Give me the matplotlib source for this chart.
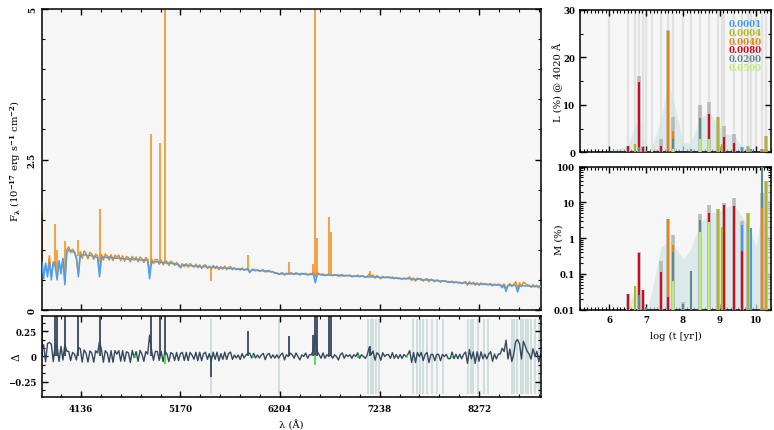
import numpy as np
import matplotlib
matplotlib.use("Agg")
import matplotlib.pyplot as plt
from matplotlib.ticker import MultipleLocator, FixedLocator, FuncFormatter, LogLocator, NullFormatter

# ---- spectrum (rest-frame wavelength grid, 20 A step) ----
wave = np.arange(3730, 8911, 20)

model_flux = [
    0.80, 0.52, 0.78, 0.55, 0.79, 0.50, 0.80, 0.72, 0.50, 0.82,
    0.60, 0.86, 0.42, 0.95, 1.00, 0.99, 0.97, 0.95, 0.88, 0.55,
    0.90, 0.91, 0.92, 0.91, 0.90, 0.91, 0.90, 0.89, 0.88, 0.87,
    0.55, 0.86, 0.88, 0.88, 0.87, 0.88, 0.87, 0.87, 0.86, 0.86,
    0.86, 0.86, 0.85, 0.85, 0.85, 0.84, 0.85, 0.84, 0.84, 0.84,
    0.84, 0.83, 0.83, 0.83, 0.83, 0.82, 0.52, 0.80, 0.80, 0.80,
    0.80, 0.79, 0.79, 0.79, 0.78, 0.78, 0.78, 0.78, 0.77, 0.77,
    0.76, 0.76, 0.70, 0.74, 0.75, 0.74, 0.74, 0.74, 0.73, 0.73,
    0.73, 0.73, 0.72, 0.72, 0.72, 0.72, 0.71, 0.71, 0.71, 0.71,
    0.71, 0.70, 0.70, 0.70, 0.70, 0.70, 0.69, 0.69, 0.69, 0.69,
    0.69, 0.68, 0.68, 0.68, 0.68, 0.67, 0.67, 0.67, 0.62, 0.67,
    0.66, 0.66, 0.66, 0.65, 0.65, 0.65, 0.65, 0.64, 0.64, 0.64,
    0.63, 0.62, 0.61, 0.60, 0.60, 0.60, 0.60, 0.60, 0.60, 0.60,
    0.60, 0.60, 0.60, 0.60, 0.60, 0.60, 0.60, 0.59, 0.59, 0.59,
    0.59, 0.59, 0.45, 0.59, 0.59, 0.59, 0.58, 0.58, 0.58, 0.58,
    0.58, 0.58, 0.58, 0.58, 0.58, 0.57, 0.57, 0.57, 0.57, 0.57,
    0.57, 0.56, 0.56, 0.56, 0.56, 0.56, 0.56, 0.56, 0.55, 0.55,
    0.55, 0.55, 0.55, 0.55, 0.55, 0.54, 0.54, 0.54, 0.54, 0.54,
    0.54, 0.54, 0.53, 0.53, 0.53, 0.53, 0.52, 0.52, 0.52, 0.52,
    0.52, 0.52, 0.52, 0.51, 0.51, 0.51, 0.51, 0.50, 0.50, 0.50,
    0.50, 0.50, 0.50, 0.49, 0.49, 0.49, 0.48, 0.48, 0.48, 0.48,
    0.47, 0.47, 0.47, 0.46, 0.46, 0.46, 0.46, 0.45, 0.45, 0.45,
    0.45, 0.44, 0.44, 0.44, 0.44, 0.44, 0.43, 0.43, 0.43, 0.43,
    0.43, 0.43, 0.42, 0.42, 0.42, 0.42, 0.42, 0.42, 0.41, 0.37,
    0.41, 0.31, 0.41, 0.41, 0.41, 0.41, 0.41, 0.30, 0.40, 0.40,
    0.40, 0.40, 0.40, 0.40, 0.39, 0.39, 0.39, 0.39, 0.39, 0.39,
]

obs_flux = [
    0.86, 0.58, 0.74, 0.62, 0.90, 0.56, 0.76, 0.80, 0.55, 0.78,
    0.66, 0.83, 0.47, 1.00, 1.05, 0.95, 1.01, 0.97, 0.85, 0.60,
    0.97, 0.86, 0.98, 0.94, 0.85, 0.96, 0.93, 0.84, 0.93, 0.90,
    0.63, 0.92, 0.83, 0.93, 0.90, 0.83, 0.92, 0.82, 0.91, 0.88,
    0.91, 0.82, 0.90, 0.81, 0.89, 0.87, 0.80, 0.89, 0.83, 0.88,
    0.80, 0.88, 0.85, 0.79, 0.87, 0.84, 0.63, 0.85, 0.77, 0.84,
    0.84, 0.76, 0.83, 0.75, 0.82, 0.80, 0.74, 0.81, 0.79, 0.74,
    0.79, 0.73, 0.72, 0.77, 0.72, 0.77, 0.71, 0.77, 0.74, 0.71,
    0.76, 0.70, 0.75, 0.69, 0.74, 0.75, 0.69, 0.73, 0.68, 0.74,
    0.69, 0.73, 0.67, 0.72, 0.68, 0.73, 0.67, 0.71, 0.72, 0.67,
    0.70, 0.67, 0.69, 0.66, 0.70, 0.66, 0.68, 0.69, 0.64, 0.66,
    0.68, 0.65, 0.67, 0.64, 0.66, 0.67, 0.63, 0.65, 0.66, 0.63,
    0.64, 0.61, 0.62, 0.59, 0.61, 0.62, 0.58, 0.61, 0.60, 0.62,
    0.61, 0.59, 0.62, 0.60, 0.58, 0.61, 0.60, 0.61, 0.58, 0.60,
    0.60, 0.63, 0.55, 0.62, 0.60, 0.58, 0.60, 0.57, 0.59, 0.58,
    0.59, 0.57, 0.59, 0.58, 0.56, 0.58, 0.59, 0.56, 0.58, 0.57,
    0.58, 0.55, 0.57, 0.56, 0.58, 0.55, 0.57, 0.56, 0.54, 0.56,
    0.60, 0.56, 0.58, 0.53, 0.57, 0.55, 0.52, 0.56, 0.54, 0.55,
    0.55, 0.53, 0.55, 0.52, 0.54, 0.52, 0.53, 0.51, 0.53, 0.52,
    0.53, 0.55, 0.49, 0.53, 0.48, 0.53, 0.51, 0.52, 0.48, 0.51,
    0.52, 0.47, 0.51, 0.50, 0.47, 0.50, 0.49, 0.46, 0.49, 0.48,
    0.48, 0.46, 0.46, 0.48, 0.45, 0.47, 0.45, 0.46, 0.44, 0.46,
    0.47, 0.41, 0.47, 0.43, 0.46, 0.41, 0.45, 0.41, 0.45, 0.42,
    0.44, 0.42, 0.43, 0.44, 0.40, 0.43, 0.41, 0.43, 0.42, 0.40,
    0.43, 0.36, 0.40, 0.44, 0.39, 0.42, 0.47, 0.35, 0.45, 0.39,
    0.46, 0.44, 0.42, 0.41, 0.38, 0.42, 0.39, 0.41, 0.37, 0.40,
]

# emission lines / spikes in the observed spectrum
line_wave = [3733, 3869, 3889, 3970, 4102, 4340, 4861, 4959, 5007, 5485,
             5876, 6300, 6548, 6563, 6583, 6716, 6731, 7136]
line_base = [0.80, 0.78, 0.70, 0.60, 0.90, 0.80, 0.75, 0.80, 0.80, 0.72,
             0.68, 0.61, 0.60, 0.58, 0.60, 0.59, 0.59, 0.56]
line_peak = [1.62, 1.43, 1.00, 1.15, 1.17, 1.67, 2.92, 2.78, 5.50, 0.49,
             0.92, 0.79, 0.76, 5.50, 1.19, 1.54, 1.29, 0.65]
line_resid = [0.45, 0.45, 0.45, 0.45, 0.45, 0.45, 0.45, 0.45, 0.45, -0.20,
              0.25, 0.20, 0.21, 0.45, 0.45, 0.45, 0.45, 0.10]

# masked pixels (residual panel)
mask_wave = [5485, 6197, 7120, 7145, 7172, 7200, 7234,
             7587, 7622, 7657, 7691, 7726, 7778, 7836, 7892,
             8158, 8183, 8210, 8262, 8321, 8365,
             8614, 8635, 8666, 8701, 8728, 8756, 8780, 8805, 8850, 8895]
# clipped points
clip_wave = [4700, 5007, 5925, 6563, 7013, 7519, 7986]
clip_low = [-0.01, -0.07, -0.01, -0.08, -0.01, -0.01, -0.01]

# ---- star formation history ----
z_labels = ["0.0001", "0.0004", "0.0040", "0.0080", "0.0200", "0.0500"]
z_colors = ["#3d9cf5", "#b4b414", "#f08208", "#d4081e", "#5e8c8c", "#b8ef72"]

age_grid = [6.00, 6.50, 6.70, 6.81, 6.92, 6.99, 7.15, 7.40, 7.60, 7.74, 8.01, 8.21,
            8.46, 8.70, 8.95, 9.07, 9.13, 9.38, 9.62, 9.78, 9.86, 10.00, 10.16, 10.26]

bar_logt = [6.50, 6.70, 6.81, 6.81, 6.92, 6.99, 7.15, 7.40, 7.60, 7.60, 7.74, 7.74, 7.74,
            8.01, 8.21, 8.46, 8.46, 8.70, 8.70, 8.95, 9.07, 9.13, 9.38, 9.62, 9.62,
            9.78, 9.86, 10.16, 10.16, 10.26]
bar_z = [3, 1, 3, 4, 3, 4, 5, 3, 2, 3, 5, 4, 2,
         4, 4, 5, 4, 5, 3, 1, 1, 3, 3, 3, 0,
         1, 0, 2, 4, 1]
bar_L = [1.3, 1.7, 14.8, 1.2, 1.2, 0.3, 0.2, 1.4, 25.6, 0.3, 0.7, 2.8, 4.4,
         0.1, 0.6, 2.8, 7.3, 2.8, 8.0, 7.4, 1.8, 3.2, 2.0, 0.2, 1.1,
         1.1, 0.6, 0.6, 0.2, 3.4]
bar_M = [0.028, 0.045, 0.38, 0.025, 0.036, 0.012, 0.008, 0.11, 3.4, 0.022, 0.065, 0.42, 0.63,
         0.014, 0.12, 1.5, 3.3, 2.9, 5.2, 6.6, 2.0, 8.5, 8.0, 0.44, 2.4,
         5.2, 1.9, 6.8, 150.0, 40.0]

tot_logt = [6.50, 6.81, 6.92, 7.40, 7.60, 7.74, 8.01, 8.46, 8.70, 8.95, 9.13, 9.38, 9.62, 9.78, 10.16, 10.26]
tot_L = [1.4, 16.0, 1.3, 2.7, 25.8, 7.4, 0.1, 10.0, 10.7, 7.4, 5.6, 3.9, 1.2, 1.3, 0.6, 3.4]
tot_M = [0.028, 0.42, 0.036, 0.23, 3.4, 1.2, 0.016, 4.8, 8.3, 6.6, 9.8, 13.5, 3.0, 5.2, 18.0, 40.0]

env_t = [5.95, 6.00, 6.50, 6.81, 7.00, 7.15, 7.40, 7.60, 7.74, 8.01, 8.21, 8.46, 8.70,
         8.95, 9.13, 9.38, 9.62, 9.78, 10.00, 10.16, 10.26, 10.40]
env_L = [0.0, 0.4, 1.3, 8.0, 0.2, 1.0, 7.0, 14.5, 11.0, 2.0, 2.0, 7.0, 8.6,
         6.0, 3.8, 3.8, 1.0, 0.8, 0.3, 0.6, 0.3, 0.0]
env_M = [0.0001, 0.0001, 0.012, 0.07, 0.008, 0.03, 0.55, 0.86, 0.70, 0.26, 0.50, 2.5, 5.3,
         5.3, 6.7, 9.2, 3.9, 2.2, 0.6, 8.0, 40.0, 40.0]

# ---- style ----
plt.rcParams["font.family"] = "DejaVu Serif"
plt.rcParams["font.weight"] = "bold"
plt.rcParams["mathtext.fontset"] = "dejavuserif"
plt.rcParams["mathtext.default"] = "bf"
plt.rcParams["axes.linewidth"] = 1.1
plt.rcParams["axes.facecolor"] = "#f6f6f6"

FS = 6.2     # tick labels
FL = 7.2     # axis labels
C_OBS = "#f28a12"
C_MOD = "#4a9ff2"
C_RES = "#34495e"


def style_ticks(ax):
    ax.tick_params(which="both", direction="in", top=True, right=True, labelsize=FS)
    ax.tick_params(which="major", length=4, width=1.0)
    ax.tick_params(which="minor", length=2, width=0.8)


fig = plt.figure(figsize=(7.74, 4.31), dpi=100)
ax_sp = fig.add_axes([0.0539, 0.2784, 0.6447, 0.6984])
ax_res = fig.add_axes([0.0539, 0.0766, 0.6447, 0.1879])
ax_L = fig.add_axes([0.7494, 0.6443, 0.2468, 0.3302])
ax_M = fig.add_axes([0.7494, 0.2791, 0.2468, 0.3318])

xlim = (3730, 8910)

# spectrum
ax_sp.plot(wave, obs_flux, color=C_OBS, lw=1.1, zorder=2)
ax_sp.vlines(line_wave, line_base, line_peak, color=C_OBS, lw=1.1, zorder=2)
ax_sp.plot(wave, model_flux, color=C_MOD, lw=1.1, zorder=3)
ax_sp.set_xlim(*xlim)
ax_sp.set_ylim(0, 5)
ax_sp.xaxis.set_major_locator(MultipleLocator(1034))
ax_sp.xaxis.set_minor_locator(MultipleLocator(206.8))
ax_sp.yaxis.set_major_locator(MultipleLocator(2.5))
ax_sp.yaxis.set_minor_locator(MultipleLocator(0.5))
ax_sp.yaxis.set_major_formatter(FuncFormatter(lambda v, p: f"{v:g}"))
style_ticks(ax_sp)
ax_sp.tick_params(labelbottom=False)
for t in ax_sp.get_yticklabels():
    t.set_rotation(90)
    t.set_va("center")
ax_sp.set_ylabel(r"F$_\lambda$ (10$^{-17}$ erg s$^{-1}$ cm$^{-2}$)", fontsize=FL)
ax_sp.yaxis.set_label_coords(-0.037, 0.5)

# residuals
mod = np.array(model_flux)
resid = (np.array(obs_flux) - mod) / mod
ax_res.vlines(mask_wave, -0.37, 0.37, color="#c9dada", lw=1.2, zorder=1)
ax_res.plot(wave, resid, color=C_RES, lw=1.0, zorder=2)
ax_res.vlines(line_wave, 0, line_resid, color=C_RES, lw=1.3, zorder=2)
ax_res.vlines(clip_wave, clip_low, 0.01, color="#2fe02f", lw=1.2, zorder=3)
ax_res.set_xlim(*xlim)
ax_res.set_ylim(-0.4, 0.4)
ax_res.xaxis.set_major_locator(MultipleLocator(1034))
ax_res.xaxis.set_minor_locator(MultipleLocator(206.8))
ax_res.yaxis.set_major_locator(FixedLocator([-0.25, 0, 0.25]))
ax_res.yaxis.set_minor_locator(MultipleLocator(0.25 / 3))
ax_res.yaxis.set_major_formatter(FuncFormatter(lambda v, p: "0" if v == 0 else f"{v:.2f}".replace("-", "\u2212")))
style_ticks(ax_res)
ax_res.tick_params(axis="x", pad=5)
ax_res.set_ylabel("\u0394", fontsize=FL + 0.5)
ax_res.yaxis.set_label_coords(-0.041, 0.5)
ax_res.set_xlabel("\u03bb (\u00c5)", fontsize=FL)
ax_res.xaxis.set_label_coords(0.5, -0.27)

# SFH panels
order_L = np.argsort(-np.array(bar_L))
order_M = np.argsort(-np.array(bar_M))
bl = np.array(bar_logt)
bz = np.array(bar_z)
cols = np.array(z_colors)

ax_L.vlines(age_grid, 0, 30, color="#e2e2e2", lw=1.6, zorder=1)
ax_L.fill_between(env_t, env_L, color="#cfe6e6", alpha=0.7, lw=0, zorder=2)
ax_L.vlines(tot_logt, 0, tot_L, color="#b9b9b9", lw=2.6, zorder=3)
ax_L.vlines(bl[order_L], 0, np.array(bar_L)[order_L], colors=cols[bz[order_L]], lw=1.5, zorder=4)
ax_L.set_xlim(5.2, 10.4)
ax_L.set_ylim(0, 30)
ax_L.xaxis.set_major_locator(MultipleLocator(1))
ax_L.xaxis.set_minor_locator(MultipleLocator(0.1))
ax_L.yaxis.set_major_locator(MultipleLocator(10))
ax_L.yaxis.set_minor_locator(MultipleLocator(5))
style_ticks(ax_L)
ax_L.tick_params(labelbottom=False)
ax_L.set_ylabel("L (%) @ 4020 \u00c5", fontsize=FL)
ax_L.yaxis.set_label_coords(-0.089, 0.5)
for i, (lab, c) in enumerate(zip(z_labels, z_colors)):
    ax_L.text(0.78, 0.905 - i * 0.062, lab, color=c, fontsize=FS, transform=ax_L.transAxes,
              va="center", ha="left")

ax_M.fill_between(env_t, 1e-4, env_M, color="#cfe6e6", alpha=0.7, lw=0, zorder=2)
ax_M.vlines(tot_logt, 1e-4, tot_M, color="#b9b9b9", lw=2.6, zorder=3)
ax_M.vlines(bl[order_M], 1e-4, np.array(bar_M)[order_M], colors=cols[bz[order_M]], lw=1.5, zorder=4)
ax_M.set_yscale("log")
ax_M.set_xlim(5.2, 10.4)
ax_M.set_ylim(0.01, 100)
ax_M.xaxis.set_major_locator(MultipleLocator(1))
ax_M.xaxis.set_minor_locator(MultipleLocator(0.1))
ax_M.yaxis.set_major_locator(FixedLocator([0.01, 0.1, 1, 10, 100]))
ax_M.yaxis.set_minor_locator(LogLocator(base=10, subs=np.arange(2, 10)))
ax_M.yaxis.set_minor_formatter(NullFormatter())
ax_M.yaxis.set_major_formatter(FuncFormatter(lambda v, p: f"{v:g}"))
style_ticks(ax_M)
ax_M.tick_params(axis="x", pad=4)
ax_M.set_ylabel("M (%)", fontsize=FL)
ax_M.yaxis.set_label_coords(-0.089, 0.5)
ax_M.set_xlabel("log (t [yr])", fontsize=FL, labelpad=5)

fig.savefig("out.png", dpi=100)
